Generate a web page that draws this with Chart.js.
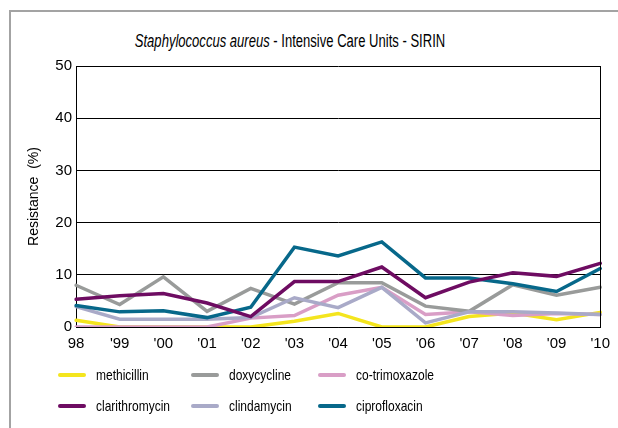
<!DOCTYPE html>
<html>
<head>
<meta charset="utf-8">
<script src="https://cdn.jsdelivr.net/npm/chart.js@4/dist/chart.umd.min.js"></script>
<style>
  html, body { margin: 0; padding: 0; background: #fff; }
  body { width: 618px; height: 428px; position: relative; overflow: hidden;
         font-family: "Liberation Sans Narrow", "Arial Narrow", "Liberation Sans", Arial, sans-serif; color: #000; }
  .frame { position: absolute; left: 9px; top: 10px; right: 0; bottom: 0;
           border-left: 2px solid #a3a3a3; border-top: 2px solid #a3a3a3; }
  .title { position: absolute; left: 0; top: 30px; width: 580px; text-align: center; font-size: 18px; line-height: 22px;
           transform: scaleX(0.725); transform-origin: 50% 0; white-space: nowrap; }
  .wrap { position: absolute; left: 0; top: 0; width: 618px; height: 360px; }
  .legend { position: absolute; left: 0; top: 0; width: 618px; height: 428px; pointer-events: none; }
  .item { position: absolute; font-size: 15px; line-height: 18px; white-space: nowrap; }
  .item i { position: absolute; top: 7px; width: 28px; height: 4px; border-radius: 2px; }
  .item span { position: absolute; left: 38px; top: 0; transform: scaleX(0.8); transform-origin: 0 0; }
</style>
</head>
<body>
<div class="frame"></div>
<div class="title"><i>Staphylococcus aureus</i> - Intensive Care Units - SIRIN</div>
<div class="wrap"><canvas id="chart"></canvas></div>
<div class="legend" id="legend"></div>
<script>
// resistance (%) per year, ICU isolates
var years = ['98', "'99", "'00", "'01", "'02", "'03", "'04", "'05", "'06", "'07", "'08", "'09", "'10"];
var yTicks = [0, 10, 20, 30, 40, 50];

var methicillin    = [1.3, 0, 0, 0, 0, 1.1, 2.6, 0, 0, 2.0, 2.7, 1.4, 2.8];
var doxycycline    = [8.0, 4.3, 9.6, 3.0, 7.4, 4.4, 8.5, 8.5, 4.0, 3.0, 8.1, 6.1, 7.6];
var coTrimoxazole  = [0, 0, 0, 0, 1.7, 2.2, 6.1, 7.6, 2.4, 2.9, 2.2, 2.6, 2.4];
var clarithromycin = [5.3, 6.0, 6.4, 4.6, 2.0, 8.7, 8.7, 11.5, 5.6, 8.6, 10.4, 9.7, 12.2];
var clindamycin    = [3.9, 1.5, 1.5, 1.5, 1.8, 5.6, 3.7, 7.6, 0.8, 2.9, 2.9, 2.7, 2.4];
var ciprofloxacin  = [4.1, 2.9, 3.1, 1.8, 3.8, 15.3, 13.6, 16.3, 9.4, 9.4, 8.3, 6.8, 11.2];

var FONT = '"Liberation Sans Narrow", "Arial Narrow", "Liberation Sans", Arial, sans-serif';
Chart.defaults.font.family = FONT;
Chart.defaults.color = '#000';

function series(label, data, color, order) {
  return {
    label: label, data: data, borderColor: color, backgroundColor: color,
    borderWidth: 3.5, pointRadius: 0, tension: 0, fill: false, order: order,
    borderCapStyle: 'round', borderJoinStyle: 'miter'
  };
}

var datasets = [
  series('methicillin', methicillin, '#f4e51e', 6),
  series('doxycycline', doxycycline, '#999b9a', 4),
  series('co-trimoxazole', coTrimoxazole, '#d99ec6', 5),
  series('clarithromycin', clarithromycin, '#6e0c62', 1),
  series('clindamycin', clindamycin, '#a9aac8', 3),
  series('ciprofloxacin', ciprofloxacin, '#07688a', 2)
];

// right edge of the plot box
var boxPlugin = {
  id: 'box',
  afterDraw: function (chart) {
    var a = chart.chartArea, ctx = chart.ctx;
    ctx.save();
    ctx.strokeStyle = '#000';
    ctx.lineWidth = 1;
    ctx.beginPath();
    ctx.moveTo(Math.round(a.right) + 0.5, a.top);
    ctx.lineTo(Math.round(a.right) + 0.5, a.bottom);
    ctx.stroke();
    ctx.restore();
  }
};

var chart = new Chart(document.getElementById('chart'), {
  type: 'line',
  data: { labels: years, datasets: datasets },
  plugins: [boxPlugin],
  options: {
    responsive: true,
    maintainAspectRatio: false,
    animation: false,
    layout: { padding: { left: 0, top: 66, right: 15, bottom: 0 } },
    plugins: { legend: { display: false }, tooltip: { enabled: false } },
    scales: {
      x: {
        offset: false,
        grid: { display: false, drawTicks: false },
        border: { display: true, color: '#000', width: 1 },
        ticks: { font: { size: 15 }, padding: 8, maxRotation: 0, autoSkip: false },
        afterFit: function (s) { s.height = 33; }
      },
      y: {
        min: 0, max: 50,
        grid: { color: '#000', lineWidth: 1, drawTicks: false },
        border: { display: true, color: '#000', width: 1 },
        ticks: {
          font: { size: 15 }, padding: 4, stepSize: 10,
          callback: function (v) { return yTicks.indexOf(v) >= 0 ? String(v) : null; }
        },
        title: { display: true, text: 'Resistance  (%)', font: { size: 14 }, padding: { top: 26, bottom: 0 } },
        afterFit: function (s) { s.width = 76; }
      }
    }
  }
});

// legend: two rows of three
var legend = document.getElementById('legend');
var cols = [58, 191, 318];
var rows = [366, 397];
var legendOrder = [0, 1, 2, 3, 4, 5];
legendOrder.forEach(function (idx, k) {
  var ds = chart.data.datasets[idx];
  var el = document.createElement('div');
  el.className = 'item';
  el.style.left = cols[k % 3] + 'px';
  el.style.top = rows[Math.floor(k / 3)] + 'px';
  var sw = document.createElement('i');
  sw.style.background = ds.borderColor;
  var tx = document.createElement('span');
  tx.textContent = ds.label;
  el.appendChild(sw);
  el.appendChild(tx);
  legend.appendChild(el);
});
</script>
</body>
</html>
